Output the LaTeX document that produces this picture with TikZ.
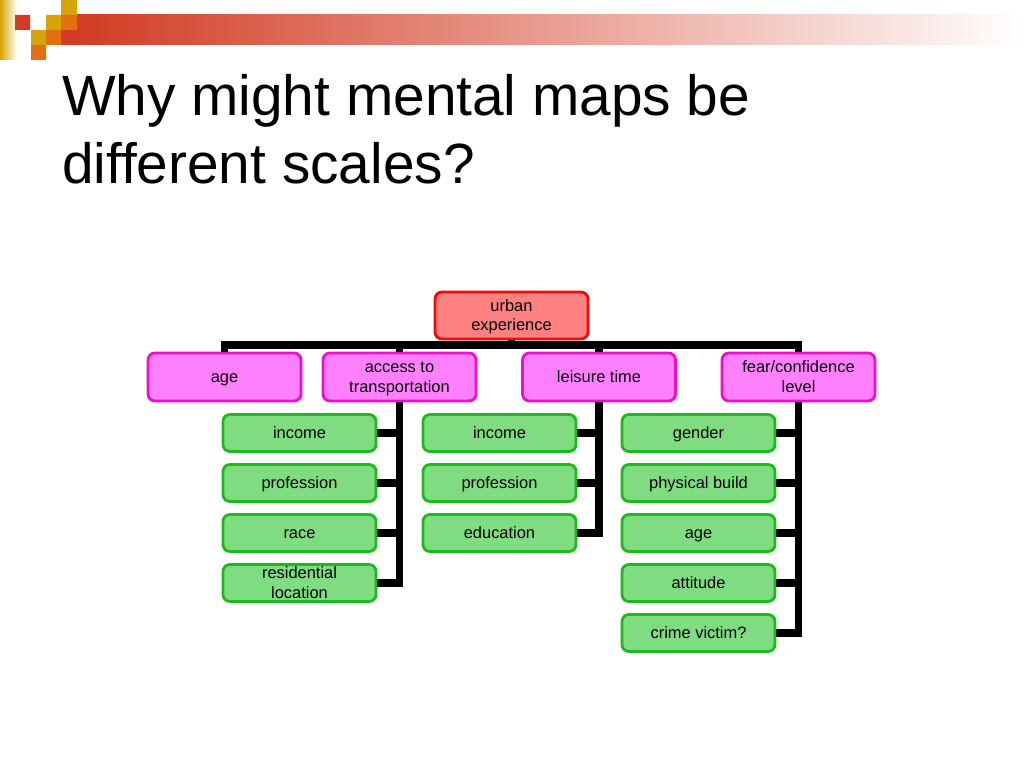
\documentclass[tikz,border=0pt]{standalone}
\usepackage{fontspec}
\setmainfont{Liberation Sans}
\usetikzlibrary{positioning}
\definecolor{barred}{HTML}{D23C24}
\definecolor{sqgold}{HTML}{D6A404}
\definecolor{sqorange}{HTML}{E07010}
\definecolor{topfill}{HTML}{FF8080}
\definecolor{topline}{HTML}{F00A0A}
\definecolor{catfill}{HTML}{FF80FF}
\definecolor{catline}{HTML}{F40CC8}
\definecolor{factfill}{HTML}{80DC80}
\definecolor{factline}{HTML}{1CBA1C}
\tikzset{
  box/.style={rounded corners=7bp, line width=2.8bp, align=center, inner sep=0pt,
    minimum width=153bp, font=\fontsize{16.5}{19.5}\selectfont},
  oneline/.style={text height=12bp, text depth=1bp},
  twoline/.style={text height=31.5bp, text depth=1bp},
  topbox/.style={box, draw=topline, fill=topfill, minimum height=47bp},
  catbox/.style={box, draw=catline, fill=catfill, minimum height=48bp},
  factbox/.style={box, draw=factline, fill=factfill, minimum height=37bp},
  link/.style={line width=7.5bp, black},
  title/.style={anchor=base west, inner sep=0pt, font=\fontsize{57}{68}\selectfont}
}

\begin{document}
\begin{tikzpicture}[x=1bp,y=-1bp]
  \useasboundingbox[fill=white] (0,0) rectangle (1024,768);
  % header strip
  \shade[left color=barred, right color=white] (77,15) rectangle (1024,45);
  \shade[left color=sqgold, right color=white] (0,0) rectangle (17,60);
  \fill[barred] (15,15) rectangle (30,30) (61,30) rectangle (77,45);
  \fill[sqgold] (61,0) rectangle (77,15) (46,15) rectangle (61,30) (31,30) rectangle (46,45);
  \fill[sqorange] (61,15) rectangle (77,30) (46,30) rectangle (61,45) (31,45) rectangle (46,60);
  % title
  \node[title] (title) at (62,115.5) {Why might mental maps be};
  \node[title] (title2) at (62,183.5) {different scales?};
  % chart
  \node[topbox, twoline] (urban) at (511.5,315.5) {urban\\experience};
  \foreach \n/\x/\s/\lab in {age/224.5/oneline/age, access/399.5/twoline/{access to\\transportation},
      leisure/599/oneline/leisure time, fear/798.5/twoline/{fear/confidence\\level}}{
    \node[catbox, \s] (\n) at (\x,377) {\lab};
  }
  \foreach \n/\y/\s/\lab in {inc1/433/oneline/income, prof1/483/oneline/profession,
      race/533/oneline/race, resid/583/twoline/{residential\\location}}{
    \node[factbox, \s] (\n) at (299.5,\y) {\lab};
  }
  \foreach \n/\y/\lab in {inc2/433/income, prof2/483/profession, edu/533/education}{
    \node[factbox, oneline] (\n) at (499.5,\y) {\lab};
  }
  \foreach \n/\y/\lab in {gender/433/gender, build/483/physical build, age2/533/age,
      attitude/583/attitude, victim/633/crime victim?}{
    \node[factbox, oneline] (\n) at (698.5,\y) {\lab};
  }
  \coordinate (bar) at (511.5,345);
  \draw[link] (age.north) |- (bar) -| (fear.north);
  \draw[link] (urban.south) -- (bar);
  \draw[link] (access.north) -- (access.north |- bar);
  \draw[link] (leisure.north) -- (leisure.north |- bar);
  \foreach \n in {inc1,prof1,race,resid}{\draw[link] (\n.east) -| (access.south);}
  \foreach \n in {inc2,prof2,edu}{\draw[link] (\n.east) -| (leisure.south);}
  \foreach \n in {gender,build,age2,attitude,victim}{\draw[link] (\n.east) -| (fear.south);}
\end{tikzpicture}
\end{document}
